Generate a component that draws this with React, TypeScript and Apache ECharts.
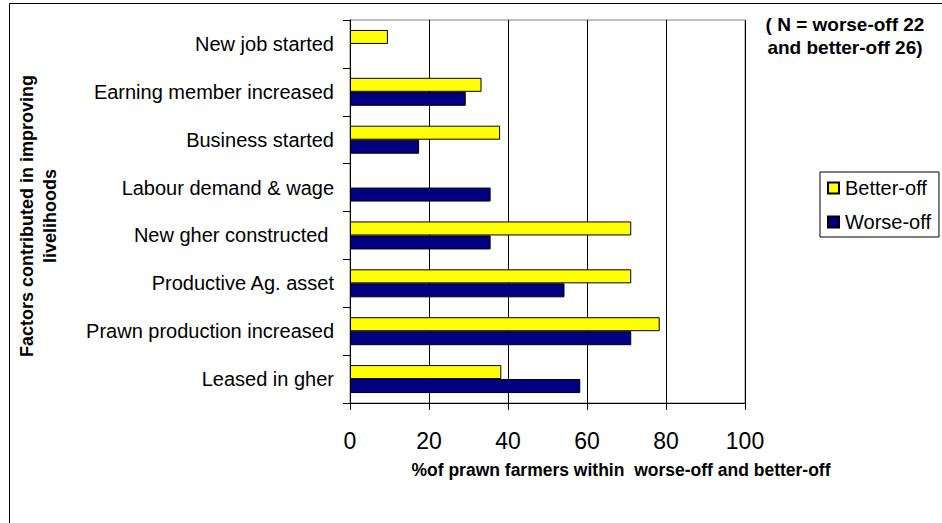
import React, { useEffect, useRef } from "react";
import * as echarts from "echarts";

const categories = [
  "Leased in gher",
  "Prawn production increased",
  "Productive Ag. asset",
  "New gher constructed ",
  "Labour demand & wage",
  "Business started",
  "Earning member increased",
  "New job started",
];
const worseOff = [58.3, 71.2, 54.3, 35.6, 35.6, 17.5, 29.3, null];
const betterOff = [38.3, 78.4, 71.2, 71.2, null, 38.0, 33.3, 9.6];
const xTicks = [0, 20, 40, 60, 80, 100];

const FONT = "'Liberation Sans', Arial, sans-serif";

export default function App() {
  const ref = useRef<HTMLDivElement>(null);
  useEffect(() => {
    document.body.style.margin = "0";
    const chart = echarts.init(ref.current!, null, { renderer: "svg" });
    chart.setOption({
      animation: false,
      backgroundColor: "#ffffff",
      textStyle: { fontFamily: FONT },
      grid: {
        left: 350,
        top: 20,
        right: 197,
        bottom: 120,
        show: true,
        borderColor: "#808080",
        borderWidth: 1,
        containLabel: false,
      },
      legend: {
        data: ["Better-off", "Worse-off"],
        orient: "vertical",
        left: 820,
        top: 172,
        padding: [6, 8, 5, 7],
        itemGap: 14,
        itemWidth: 11,
        itemHeight: 11,
        icon: "rect",
        borderColor: "#000",
        borderWidth: 1,
        textStyle: { fontSize: 20, color: "#000", fontFamily: FONT, padding: [0, 0, 0, 1] },
      },
      xAxis: {
        type: "value",
        min: xTicks[0],
        max: xTicks[xTicks.length - 1],
        interval: 20,
        axisLine: { show: true, lineStyle: { color: "#000", width: 1 } },
        axisTick: { show: true, length: 7, inside: false, lineStyle: { color: "#000" } },
        axisLabel: { fontSize: 23, color: "#000", margin: 26, fontFamily: FONT },
        splitLine: { show: true, lineStyle: { color: "#000", width: 1 } },
      },
      yAxis: {
        type: "category",
        data: categories,
        axisLine: { show: true, lineStyle: { color: "#000", width: 1 } },
        axisTick: { show: true, length: 7, inside: false, lineStyle: { color: "#000" } },
        axisLabel: { fontSize: 20, color: "#000", margin: 16, fontFamily: FONT },
        splitLine: { show: false },
      },
      series: [
        {
          name: "Better-off",
          type: "bar",
          data: betterOff,
          barWidth: 14,
          barGap: "0%",
          itemStyle: { color: "#ffff00", borderColor: "#000", borderWidth: 1 },
        },
        {
          name: "Worse-off",
          type: "bar",
          data: worseOff,
          barWidth: 14,
          barGap: "0%",
          itemStyle: { color: "#000080", borderColor: "#000", borderWidth: 1 },
        },
      ],
      graphic: [
        {
          type: "rect",
          silent: true,
          z: -10,
          shape: { x: 9.5, y: 3.5, width: 1000, height: 1000 },
          style: { fill: "none", stroke: "#000", lineWidth: 1 },
        },
        {
          type: "text",
          x: 845,
          y: 13,
          style: {
            text: "( N = worse-off 22\nand better-off 26)",
            font: `bold 19px ${FONT}`,
            fill: "#000",
            align: "center",
            verticalAlign: "top",
            lineHeight: 23,
          },
        },
        {
          type: "text",
          x: 621,
          y: 470,
          style: {
            text: "%of prawn farmers within  worse-off and better-off",
            font: `bold 17.5px ${FONT}`,
            fill: "#000",
            align: "center",
            verticalAlign: "middle",
          },
        },
        {
          type: "text",
          x: 38,
          y: 216,
          rotation: Math.PI / 2,
          style: {
            text: "Factors contributed in improving\nlivelihoods",
            font: `bold 18px ${FONT}`,
            fill: "#000",
            align: "center",
            verticalAlign: "middle",
            lineHeight: 23,
          },
        },
      ],
    });
    return () => chart.dispose();
  }, []);
  return <div ref={ref} style={{ width: 942, height: 523 }} />;
}
